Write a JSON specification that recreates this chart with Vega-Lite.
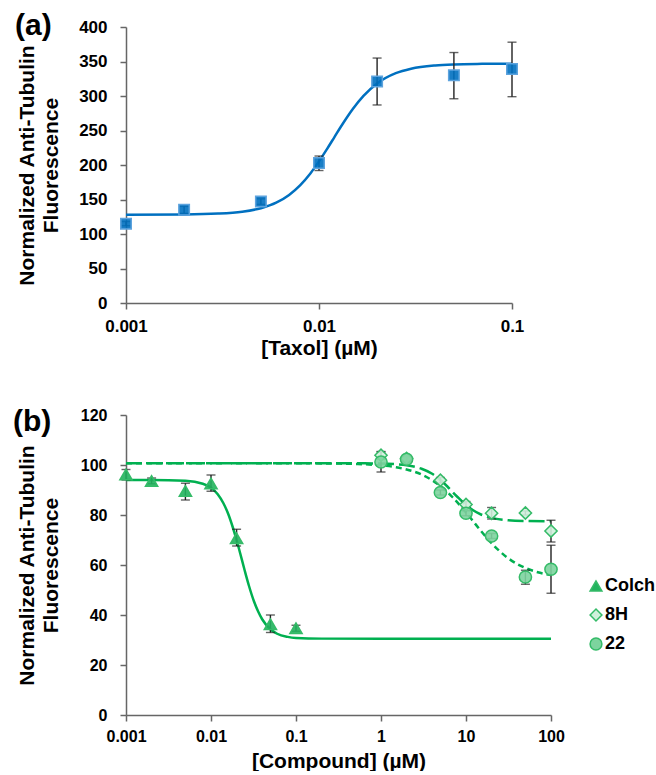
{
  "$schema": "https://vega.github.io/schema/vega-lite/v6.json",
  "padding": {"left": 13, "top": 11, "right": 0, "bottom": 0},
  "background": "white",
  "spacing": 49,
  "resolve": {"scale": {"shape": "independent", "color": "independent"}, "legend": {"shape": "independent", "color": "independent"}},
  "config": {
    "view": {"stroke": null},
    "font": "Liberation Sans",
    "axis": {"grid": false, "labelFont": "Liberation Sans", "labelFontWeight": "bold", "labelFontSize": 17, "labelColor": "#000", "titleFont": "Liberation Sans", "titleFontWeight": "bold", "titleFontSize": 21, "titleColor": "#000", "domainColor": "#666", "domainWidth": 1.5, "tickColor": "#666", "tickWidth": 1.5, "tickSize": 6, "labelFlush": false, "labelOverlap": false},
    "axisY": {"labelPadding": 13, "titlePadding": 17, "titleLineHeight": 24},
    "axisX": {"labelPadding": 9, "titlePadding": 3},
    "title": {"font": "Liberation Sans", "fontSize": 30, "fontWeight": "bold", "anchor": "start", "frame": "group", "color": "#000"},
    "legend": {"labelFont": "Liberation Sans", "labelFontWeight": "bold", "labelFontSize": 18, "labelColor": "#000", "symbolSize": 140, "symbolStrokeWidth": 1.5, "rowPadding": 11, "labelOffset": 0, "padding": 0}
  },
  "datasets": {
    "taxolPts": [
      {"x": 0.001, "y": 115, "lo": 112, "hi": 118},
      {"x": 0.002, "y": 135, "lo": 130, "hi": 140},
      {"x": 0.005, "y": 147, "lo": 143, "hi": 151},
      {"x": 0.01, "y": 203, "lo": 192, "hi": 213},
      {"x": 0.02, "y": 321, "lo": 287, "hi": 355},
      {"x": 0.05, "y": 330, "lo": 296, "hi": 363},
      {"x": 0.1, "y": 339, "lo": 299, "hi": 378}
    ],
    "taxolFit": [
      {"x": 0.001, "y": 128.0}, {"x": 0.002, "y": 128.4}, {"x": 0.003, "y": 129.6}, {"x": 0.004, "y": 132.3},
      {"x": 0.005, "y": 137.4}, {"x": 0.006, "y": 145.4}, {"x": 0.007, "y": 156.7}, {"x": 0.008, "y": 170.9},
      {"x": 0.009, "y": 187.4}, {"x": 0.01, "y": 205.2}, {"x": 0.011, "y": 223.1}, {"x": 0.012, "y": 240.1},
      {"x": 0.013, "y": 255.8}, {"x": 0.014, "y": 269.6}, {"x": 0.015, "y": 281.5}, {"x": 0.017, "y": 300.2},
      {"x": 0.02, "y": 318.2}, {"x": 0.025, "y": 333.1}, {"x": 0.03, "y": 339.6}, {"x": 0.04, "y": 344.3},
      {"x": 0.05, "y": 345.8}, {"x": 0.07, "y": 346.6}, {"x": 0.1, "y": 346.9}
    ],
    "compPts": [
      {"compound": "Colch", "x": 0.001, "y": 96.2, "lo": 94.0, "hi": 98.2},
      {"compound": "Colch", "x": 0.002, "y": 93.6, "lo": 92.5, "hi": 94.8},
      {"compound": "Colch", "x": 0.005, "y": 89.6, "lo": 86.0, "hi": 92.7},
      {"compound": "Colch", "x": 0.01, "y": 92.6, "lo": 89.5, "hi": 96.0},
      {"compound": "Colch", "x": 0.02, "y": 70.7, "lo": 67.6, "hi": 74.3},
      {"compound": "Colch", "x": 0.05, "y": 36.3, "lo": 33.0, "hi": 40.0},
      {"compound": "Colch", "x": 0.1, "y": 34.7, "lo": 33.5, "hi": 35.9},
      {"compound": "8H", "x": 1, "y": 103.9, "lo": 102.4, "hi": 105.4},
      {"compound": "8H", "x": 2, "y": 102.6, "lo": 101.5, "hi": 103.7},
      {"compound": "8H", "x": 5, "y": 93.9, "lo": 92.8, "hi": 95.0},
      {"compound": "8H", "x": 10, "y": 84.2, "lo": 83.0, "hi": 85.4},
      {"compound": "8H", "x": 20, "y": 80.7, "lo": 78.4, "hi": 83.0},
      {"compound": "8H", "x": 50, "y": 80.8, "lo": 80.0, "hi": 81.6},
      {"compound": "8H", "x": 100, "y": 73.6, "lo": 69.2, "hi": 77.9},
      {"compound": "22", "x": 1, "y": 101.2, "lo": 97.2, "hi": 105.2},
      {"compound": "22", "x": 2, "y": 102.3, "lo": 101.3, "hi": 103.3},
      {"compound": "22", "x": 5, "y": 89.0, "lo": 88.0, "hi": 90.0},
      {"compound": "22", "x": 10, "y": 80.7, "lo": 79.7, "hi": 81.7},
      {"compound": "22", "x": 20, "y": 71.6, "lo": 70.6, "hi": 72.6},
      {"compound": "22", "x": 50, "y": 55.2, "lo": 52.3, "hi": 57.9},
      {"compound": "22", "x": 100, "y": 58.3, "lo": 48.7, "hi": 67.9}
    ],
    "fitColch": [
      {"x": 0.001, "y": 94.0}, {"x": 0.002, "y": 94.0}, {"x": 0.005, "y": 93.7}, {"x": 0.008, "y": 92.5},
      {"x": 0.01, "y": 90.9}, {"x": 0.012, "y": 88.3}, {"x": 0.014, "y": 84.7}, {"x": 0.016, "y": 80.3},
      {"x": 0.018, "y": 75.2}, {"x": 0.02, "y": 70.0}, {"x": 0.022, "y": 64.8}, {"x": 0.025, "y": 57.6},
      {"x": 0.028, "y": 51.6}, {"x": 0.032, "y": 45.5}, {"x": 0.036, "y": 41.3}, {"x": 0.04, "y": 38.3},
      {"x": 0.05, "y": 34.3}, {"x": 0.06, "y": 32.5}, {"x": 0.08, "y": 31.25}, {"x": 0.1, "y": 30.84},
      {"x": 0.2, "y": 30.55}, {"x": 1, "y": 30.5}, {"x": 100, "y": 30.5}
    ],
    "fit8H": [
      {"x": 0.001, "y": 100.7}, {"x": 0.5, "y": 100.68}, {"x": 1, "y": 100.57}, {"x": 1.5, "y": 100.3},
      {"x": 2, "y": 99.9}, {"x": 3, "y": 98.5}, {"x": 4, "y": 96.5}, {"x": 5, "y": 94.0},
      {"x": 6, "y": 91.5}, {"x": 7, "y": 89.1}, {"x": 8, "y": 87.1}, {"x": 10, "y": 84.0},
      {"x": 12, "y": 82.0}, {"x": 15, "y": 80.2}, {"x": 20, "y": 78.85}, {"x": 30, "y": 77.98},
      {"x": 50, "y": 77.62}, {"x": 100, "y": 77.53}
    ],
    "fit22": [
      {"x": 0.001, "y": 100.7}, {"x": 0.1, "y": 100.68}, {"x": 0.3, "y": 100.57}, {"x": 0.5, "y": 100.42},
      {"x": 1, "y": 99.85}, {"x": 1.5, "y": 99.1}, {"x": 2, "y": 98.2}, {"x": 3, "y": 96.2},
      {"x": 4, "y": 93.9}, {"x": 5, "y": 91.6}, {"x": 7, "y": 87.0}, {"x": 10, "y": 81.0},
      {"x": 12, "y": 77.7}, {"x": 15, "y": 73.6}, {"x": 20, "y": 68.7}, {"x": 30, "y": 63.2},
      {"x": 40, "y": 60.4}, {"x": 50, "y": 58.8}, {"x": 70, "y": 57.1}, {"x": 100, "y": 56.0}
    ]
  },
  "vconcat": [
    {
      "width": 386,
      "height": 276,
      "title": {"text": "(a)", "dx": -111, "offset": -23},
      "layer": [
        {
          "data": {"name": "taxolFit"},
          "mark": {"type": "line", "color": "#0070C0", "strokeWidth": 2.5, "interpolate": "monotone"},
          "encoding": {
            "x": {"field": "x", "type": "quantitative", "scale": {"type": "log", "domain": [0.001, 0.1], "nice": false}, "axis": {"values": [0.001, 0.01, 0.1], "format": "~g"}, "title": "[Taxol] (µM)"},
            "y": {"field": "y", "type": "quantitative", "scale": {"domain": [0, 400], "nice": false}, "axis": {"values": [0, 50, 100, 150, 200, 250, 300, 350, 400]}, "title": ["Normalized Anti-Tubulin", "Fluorescence"]}
          }
        },
        {
          "data": {"name": "taxolPts"},
          "mark": {"type": "errorbar", "ticks": {"size": 9, "thickness": 1.4, "color": "#222"}, "rule": {"strokeWidth": 1.4, "color": "#222"}},
          "encoding": {
            "x": {"field": "x", "type": "quantitative", "axis": {"values": [0.001, 0.01, 0.1], "format": "~g"}, "title": "[Taxol] (µM)"},
            "y": {"field": "lo", "type": "quantitative", "axis": {"values": [0, 50, 100, 150, 200, 250, 300, 350, 400]}, "title": ["Normalized Anti-Tubulin", "Fluorescence"]},
            "y2": {"field": "hi"}
          }
        },
        {
          "data": {"name": "taxolPts"},
          "mark": {"type": "point", "shape": "square", "filled": true, "size": 110, "fill": "#0070C0", "fillOpacity": 0.9, "stroke": "#5DA3DE", "strokeWidth": 1.5, "opacity": 1},
          "encoding": {
            "x": {"field": "x", "type": "quantitative", "axis": {"values": [0.001, 0.01, 0.1], "format": "~g"}, "title": "[Taxol] (µM)"},
            "y": {"field": "y", "type": "quantitative", "axis": {"values": [0, 50, 100, 150, 200, 250, 300, 350, 400]}, "title": ["Normalized Anti-Tubulin", "Fluorescence"]}
          }
        }
      ]
    },
    {
      "width": 425,
      "height": 300,
      "title": {"text": "(b)", "dx": -113, "offset": -30},
      "layer": [
        {
          "data": {"name": "fitColch"},
          "mark": {"type": "line", "color": "#00B050", "strokeWidth": 2.5, "interpolate": "monotone"},
          "encoding": {
            "x": {"field": "x", "type": "quantitative", "scale": {"type": "log", "domain": [0.001, 100], "nice": false}, "axis": {"values": [0.001, 0.01, 0.1, 1, 10, 100], "format": "~g", "labelFontSize": 16, "labelPadding": 7, "titlePadding": 6}, "title": "[Compound] (µM)"},
            "y": {"field": "y", "type": "quantitative", "scale": {"domain": [0, 120], "nice": false}, "axis": {"values": [0, 20, 40, 60, 80, 100, 120], "labelFontSize": 16, "labelPadding": 13, "titlePadding": 19}, "title": ["Normalized Anti-Tubulin", "Fluorescence"]}
          }
        },
        {
          "data": {"name": "fit8H"},
          "mark": {"type": "line", "color": "#00B050", "strokeWidth": 2.5, "strokeDash": [16, 5], "interpolate": "monotone"},
          "encoding": {
            "x": {"field": "x", "type": "quantitative", "axis": {"values": [0.001, 0.01, 0.1, 1, 10, 100], "format": "~g", "labelFontSize": 16, "labelPadding": 7, "titlePadding": 6}, "title": "[Compound] (µM)"},
            "y": {"field": "y", "type": "quantitative", "axis": {"values": [0, 20, 40, 60, 80, 100, 120], "labelFontSize": 16, "labelPadding": 13, "titlePadding": 19}, "title": ["Normalized Anti-Tubulin", "Fluorescence"]}
          }
        },
        {
          "data": {"name": "fit22"},
          "mark": {"type": "line", "color": "#00B050", "strokeWidth": 2.5, "strokeDash": [6, 4], "interpolate": "monotone"},
          "encoding": {
            "x": {"field": "x", "type": "quantitative", "axis": {"values": [0.001, 0.01, 0.1, 1, 10, 100], "format": "~g", "labelFontSize": 16, "labelPadding": 7, "titlePadding": 6}, "title": "[Compound] (µM)"},
            "y": {"field": "y", "type": "quantitative", "axis": {"values": [0, 20, 40, 60, 80, 100, 120], "labelFontSize": 16, "labelPadding": 13, "titlePadding": 19}, "title": ["Normalized Anti-Tubulin", "Fluorescence"]}
          }
        },
        {
          "data": {"name": "compPts"},
          "mark": {"type": "errorbar", "ticks": {"size": 9, "thickness": 1.4, "color": "#222"}, "rule": {"strokeWidth": 1.4, "color": "#222"}},
          "encoding": {
            "x": {"field": "x", "type": "quantitative", "axis": {"values": [0.001, 0.01, 0.1, 1, 10, 100], "format": "~g", "labelFontSize": 16, "labelPadding": 7, "titlePadding": 6}, "title": "[Compound] (µM)"},
            "y": {"field": "lo", "type": "quantitative", "axis": {"values": [0, 20, 40, 60, 80, 100, 120], "labelFontSize": 16, "labelPadding": 13, "titlePadding": 19}, "title": ["Normalized Anti-Tubulin", "Fluorescence"]},
            "y2": {"field": "hi"}
          }
        },
        {
          "data": {"name": "compPts"},
          "mark": {"type": "point", "filled": true, "size": 150, "strokeWidth": 1.5, "stroke": "#35BB68", "opacity": 1, "fillOpacity": 0.9},
          "encoding": {
            "x": {"field": "x", "type": "quantitative", "axis": {"values": [0.001, 0.01, 0.1, 1, 10, 100], "format": "~g", "labelFontSize": 16, "labelPadding": 7, "titlePadding": 6}, "title": "[Compound] (µM)"},
            "y": {"field": "y", "type": "quantitative", "axis": {"values": [0, 20, 40, 60, 80, 100, 120], "labelFontSize": 16, "labelPadding": 13, "titlePadding": 19}, "title": ["Normalized Anti-Tubulin", "Fluorescence"]},
            "shape": {"field": "compound", "type": "nominal", "scale": {"domain": ["Colch", "8H", "22"], "range": ["triangle-up", "diamond", "circle"]}, "legend": {"title": null, "orient": "none", "legendX": 461, "legendY": 162}},
            "color": {"field": "compound", "type": "nominal", "scale": {"domain": ["Colch", "8H", "22"], "range": ["#22B35E", "#CFF0DB", "#7DD49E"]}, "legend": {"title": null, "orient": "none", "legendX": 461, "legendY": 162}}
          }
        }
      ]
    }
  ]
}
